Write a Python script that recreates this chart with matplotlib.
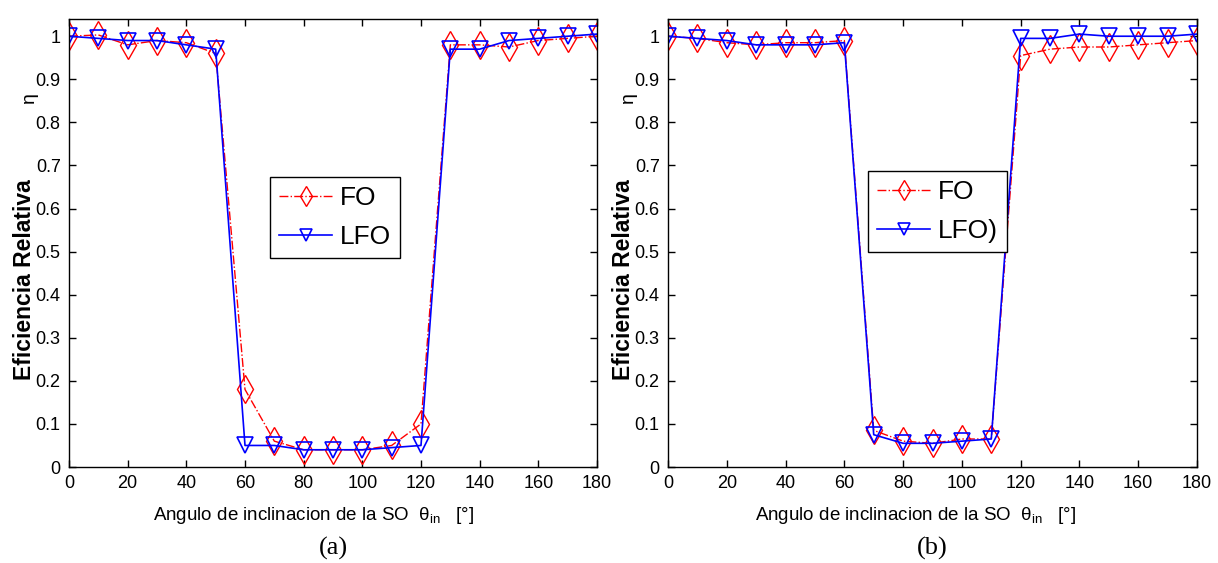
import numpy as np
import matplotlib
matplotlib.use('Agg')
import matplotlib.pyplot as plt

plt.rcParams['font.family'] = ['Liberation Sans', 'DejaVu Sans']
plt.rcParams['mathtext.fontset'] = 'custom'
plt.rcParams['mathtext.rm'] = 'Liberation Sans'

# angulo de inclinacion (grados)
angulos = list(range(0, 181, 10))

# panel (a)
fo_a = [1.0, 1.003, 0.98, 0.99, 0.985, 0.96, 0.18, 0.06, 0.04, 0.04, 0.04, 0.05, 0.10,
        0.98, 0.98, 0.975, 0.99, 0.995, 1.0]
lfo_a = [1.0, 0.995, 0.99, 0.99, 0.98, 0.97, 0.05, 0.05, 0.04, 0.04, 0.04, 0.045, 0.05,
         0.97, 0.97, 0.99, 0.995, 1.0, 1.005]

# panel (b)
fo_b = [1.0, 0.995, 0.985, 0.98, 0.985, 0.985, 0.99, 0.085, 0.06, 0.055, 0.065, 0.065,
        0.955, 0.97, 0.975, 0.975, 0.98, 0.985, 0.99]
lfo_b = [1.0, 0.995, 0.99, 0.98, 0.98, 0.98, 0.985, 0.075, 0.055, 0.055, 0.06, 0.065,
         0.995, 0.995, 1.005, 1.0, 1.0, 1.0, 1.005]

etiquetas_leg = [('FO', 'LFO'), ('FO', 'LFO)')]
paneles = ['(a)', '(b)']
yticks = [0, 0.1, 0.2, 0.3, 0.4, 0.5, 0.6, 0.7, 0.8, 0.9, 1]
yticklabels = ['0', '0.1', '0.2', '0.3', '0.4', '0.5', '0.6', '0.7', '0.8', '0.9', '1']

W, H = 1218, 563
fig = plt.figure(figsize=(W / 100, H / 100), dpi=100)

# cajas de los ejes en pixeles: izquierda, derecha, arriba, abajo
cajas = [(69, 597, 19, 467), (668, 1197, 19, 467)]
leg_pos = [(270, 258), (868, 252)]
xlabel_centro = [314, 916]

datos = [(fo_a, lfo_a), (fo_b, lfo_b)]

for k in range(2):
    l, r, t, b = cajas[k]
    ax = fig.add_axes([l / W, 1 - b / H, (r - l) / W, (b - t) / H])
    fo, lfo = datos[k]
    ax.plot(angulos, fo, color='red', linestyle='-.', linewidth=1.0, marker='d',
            markersize=14, markerfacecolor='none', markeredgecolor='red',
            markeredgewidth=1.0, label=etiquetas_leg[k][0])
    ax.plot(angulos, lfo, color='blue', linestyle='-', linewidth=1.2, marker='v',
            markersize=11, markerfacecolor='none', markeredgecolor='blue',
            markeredgewidth=1.2, label=etiquetas_leg[k][1])

    ax.set_xlim(0, 180)
    ax.set_ylim(0, 1.04)
    ax.set_xticks(range(0, 181, 20))
    ax.set_yticks(yticks)
    ax.set_yticklabels(yticklabels)
    ax.tick_params(direction='in', top=True, right=True, labelsize=13, length=5,
                   width=1, pad=6)
    for sp in ax.spines.values():
        sp.set_linewidth(1.0)

    ax.set_xlabel(r'Angulo de inclinacion de la SO  $\mathregular{\theta_{in}}$   [°]',
                  fontsize=13.5)
    ax.xaxis.set_label_coords((xlabel_centro[k] - l) / (r - l), -(515 - b) / (b - t),
                              transform=ax.transAxes)
    ax.xaxis.label.set_va('center')

    # etiqueta y (negrita) y eta por separado
    fig.text((l - 44) / W, 1 - 280 / H, 'Eficiencia Relativa', rotation=90,
             fontsize=16.5, fontweight='bold', ha='center', va='center')
    fig.text((l - 40) / W, 1 - 98 / H, 'η', rotation=90, fontsize=14,
             ha='center', va='center')

    lx, ly = leg_pos[k]
    leg = ax.legend(loc='lower left',
                    bbox_to_anchor=((lx - l) / (r - l), (b - ly) / (b - t)),
                    fontsize=19, fancybox=False, framealpha=1, edgecolor='black',
                    handlelength=2.0, handletextpad=0.3, borderpad=0.35,
                    labelspacing=0.55, borderaxespad=0, markerscale=0.75)
    leg.get_frame().set_linewidth(1.0)

    fig.text((l + r) / 2 / W, 1 - 548 / H, paneles[k], fontsize=19,
             family='Liberation Serif', ha='center', va='center')

fig.savefig('out.png', dpi=100)
